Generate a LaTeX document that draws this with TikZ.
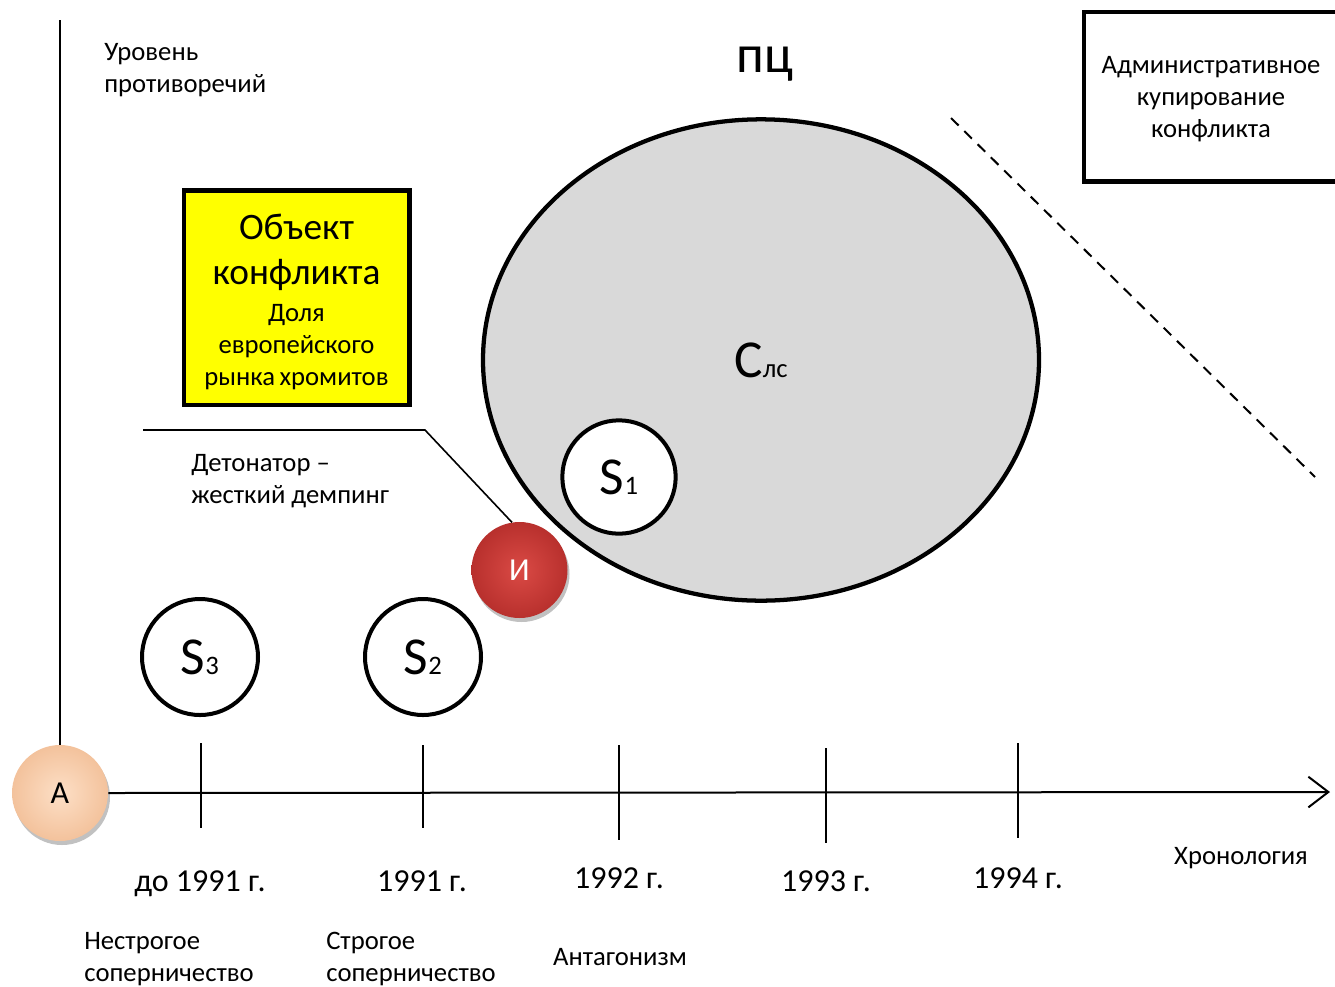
\documentclass[tikz,border=0pt]{standalone}
\usepackage{fontspec}
\setmainfont{Carlito}
\usetikzlibrary{shapes.geometric,arrows.meta,shadows}
\definecolor{ellgray}{HTML}{D9D9D9}
\definecolor{boxyellow}{HTML}{FFFF00}
\definecolor{peachin}{HTML}{FDDFC6}
\definecolor{peachout}{HTML}{F3C29C}
\definecolor{redin}{HTML}{DA4A45}
\definecolor{redout}{HTML}{B8302D}
\newcommand\subsc[1]{{\fontsize{20}{20}\selectfont #1}}
\begin{document}
\begin{tikzpicture}[x=0.75pt,y=-0.75pt,
  lbl/.style={font=\fontsize{20}{24}\selectfont, align=left, inner sep=0pt},
  yearlbl/.style={font=\fontsize{24}{29}\selectfont, inner sep=0pt, anchor=base},
  scircle/.style={circle, draw, line width=3pt, fill=white, minimum size=87pt, inner sep=0pt, font=\fontsize{40}{40}\selectfont},
  ballshadow/.style={drop shadow={shadow xshift=1.5pt, shadow yshift=-3pt, opacity=0.35, fill=black!70}},
  peachball/.style={circle, minimum size=72pt, inner sep=0pt, shading=radial, inner color=peachin, outer color=peachout, ballshadow, font=\fontsize{24}{24}\selectfont},
  redball/.style={circle, minimum size=72pt, inner sep=0pt, shading=radial, inner color=redin, outer color=redout, ballshadow, text=white, font=\fontsize{24}{24}\selectfont},
  axisline/.style={line width=1.5pt},
  tick/.style={line width=1.5pt},
]
\useasboundingbox (0,0) rectangle (1335,986);

% big ellipse
\node[ellipse, draw, line width=3.2pt, fill=ellgray, minimum width=417pt, minimum height=361pt, inner sep=0pt, font=\fontsize{40}{40}\selectfont] (clc) at (761,360) {С\subsc{лс}};

% circles
\node[scircle, minimum size=85pt] (s1) at (619,477) {S\subsc{1}};
\node[scircle] (s2) at (423,657) {S\subsc{2}};
\node[scircle] (s3) at (200,657) {S\subsc{3}};

% balls
\node[peachball] (a) at (60,793) {А};
\node[redball] (i) at (519.5,570) {И};

% axes
\coordinate (ytop) at (60,20);
\coordinate (xend) at (1330,792);
\draw[axisline] (ytop) -- (a.north);
\draw[axisline, -{Straight Barb[length=15pt,width=23pt,line width=1.5pt]}] (a.east) -- (xend);

% ticks
\draw[tick] (201,743) -- (201,828);
\draw[tick] (423,745) -- (423,828);
\draw[tick] (619,745) -- (619,840);
\draw[tick] (826,748) -- (826,843);
\draw[tick] (1018,743) -- (1018,838);

% year labels
\node[yearlbl] (y0) at (200,891) {до 1991 г.};
\node[yearlbl] (y1) at (422,891) {1991 г.};
\node[yearlbl] (y2) at (619,888) {1992 г.};
\node[yearlbl] (y3) at (826,891) {1993 г.};
\node[yearlbl] (y4) at (1018,888) {1994 г.};

% stage labels
\node[lbl, anchor=west] (st0) at (84,959) {Нестрогое\\соперничество};
\node[lbl, anchor=west] (st1) at (326,959) {Строгое\\соперничество};
\node[lbl] (st2) at (620,957) {Антагонизм};
\node[lbl] (chron) at (1241,858) {Хронология};

% y axis label
\node[lbl, anchor=west] (ylab) at (104,70) {Уровень\\противоречий};

% top label
\node[inner sep=0pt, anchor=base, font=\fontsize{40}{40}\selectfont] (pc) at (765,72) {пц};

% yellow box
\node[draw, line width=3.5pt, fill=boxyellow, minimum width=169pt, minimum height=161pt, inner sep=0pt] (obj) at (296.5,297.5) {};
\node[inner sep=0pt, text width=165pt, align=center] (objtext) at (296.5,302)
  {\fontsize{28}{34}\selectfont Объект\\конфликта\par\vspace{4pt}
   \fontsize{20}{24}\selectfont Доля\\европейского\\рынка хромитов\par};

% detonator
\coordinate (d1) at (143,430);
\coordinate (d2) at (425,430);
\draw[line width=1.2pt] (d1) -- (d2) -- (i.99);
\node[lbl, anchor=west] (det) at (191,481) {Детонатор –\\жесткий демпинг};

% dashed line
\coordinate (da) at (951,118);
\coordinate (db) at (1315,477);
\draw[line width=1.5pt, dash pattern=on 8pt off 6pt] (da) -- (db);

% admin box
\node[draw, line width=3.5pt, minimum width=190.5pt, minimum height=127pt, inner sep=0pt] (adm) at (1211,96.5) {};
\node[inner sep=0pt, align=center, font=\fontsize{20}{24}\selectfont] (admtext) at (1211,99)
  {Административное\\купирование\\конфликта};

\end{tikzpicture}
\end{document}
